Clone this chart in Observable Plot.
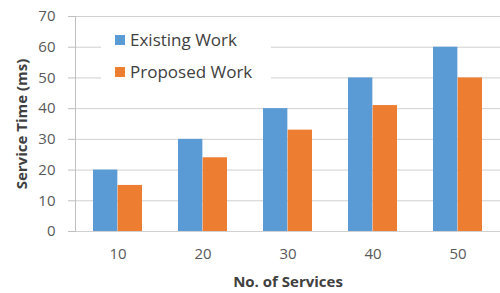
<!DOCTYPE html>
<html>
<head>
<meta charset="utf-8">
<script src="https://cdn.jsdelivr.net/npm/d3@7"></script>
<script src="https://cdn.jsdelivr.net/npm/@observablehq/plot@0.6"></script>
<style>
  html, body { margin: 0; padding: 0; background: #fff; overflow: hidden; }
  #wrap { position: relative; width: 500px; height: 293px; }
  #wrap svg [aria-label="y-axis label"], #wrap svg [aria-label="x-axis label"] { font-weight: bold; fill: #404040; }
  #legend { position: absolute; left: 101px; top: 26px; width: 170px; height: 64px; background: #fff;
    font-family: "Open Sans", sans-serif; font-size: 17px; color: #404040; }
  #legend .item { position: absolute; left: 14px; display: flex; align-items: center; white-space: nowrap; }
  #legend .sw { width: 10px; height: 10px; margin-right: 5px; }
</style>
</head>
<body>
<div id="wrap"></div>
<script>
const categories = ["10", "20", "30", "40", "50"];
const existingWork = [20, 30, 40, 50, 60];
const proposedWork = [15, 24, 33, 41, 50];
const seriesNames = ["Existing Work", "Proposed Work"];
const seriesColors = ["#5b9bd5", "#ed7d31"];
const yTicks = [0, 10, 20, 30, 40, 50, 60, 70];

const W = 500, H = 293, mL = 75, mR = 0, mT = 16, mB = 62;
const padInner = 0.42;
const rows = categories.flatMap((c, i) => [
  {n: c, series: seriesNames[0], value: existingWork[i]},
  {n: c, series: seriesNames[1], value: proposedWork[i]}
]);
const half = (W - mL - mR) / categories.length * (1 - padInner) / 2;

const chart = Plot.plot({
  width: W, height: H,
  marginLeft: mL, marginRight: mR, marginTop: mT, marginBottom: mB,
  style: {fontFamily: "'Open Sans', sans-serif", fontSize: "15px", color: "#595959", background: "#fff"},
  x: {domain: categories, paddingInner: padInner, paddingOuter: padInner / 2},
  y: {domain: [0, 70]},
  color: {domain: seriesNames, range: seriesColors},
  marks: [
    Plot.ruleY(yTicks, {stroke: "#d0d0d0", strokeWidth: 1}),
    Plot.frame({anchor: "left", stroke: "#bfbfbf"}),
    Plot.barY(rows.filter(d => d.series === seriesNames[0]), {x: "n", y: "value", fill: "series", insetRight: half}),
    Plot.barY(rows.filter(d => d.series === seriesNames[1]), {x: "n", y: "value", fill: "series", insetLeft: half}),
    Plot.axisY({ticks: yTicks, tickSize: 7, tickPadding: 13, stroke: "#bfbfbf", fill: "#595959",
      label: "Service Time (ms)", labelAnchor: "center", labelOffset: 59, labelArrow: "none"}),
    Plot.axisX({tickSize: 0, tickPadding: 17, fill: "#595959",
      label: "No. of Services", labelAnchor: "center", labelOffset: 55, labelArrow: "none"})
  ]
});

const wrap = document.getElementById("wrap");
wrap.appendChild(chart);
const legend = document.createElement("div");
legend.id = "legend";
seriesNames.forEach((name, i) => {
  const item = document.createElement("div");
  item.className = "item";
  item.style.top = (i === 0 ? 2 : 34) + "px";
  item.innerHTML = `<span class="sw" style="background:${seriesColors[i]}"></span><span>${name}</span>`;
  legend.appendChild(item);
});
wrap.appendChild(legend);
</script>
</body>
</html>
